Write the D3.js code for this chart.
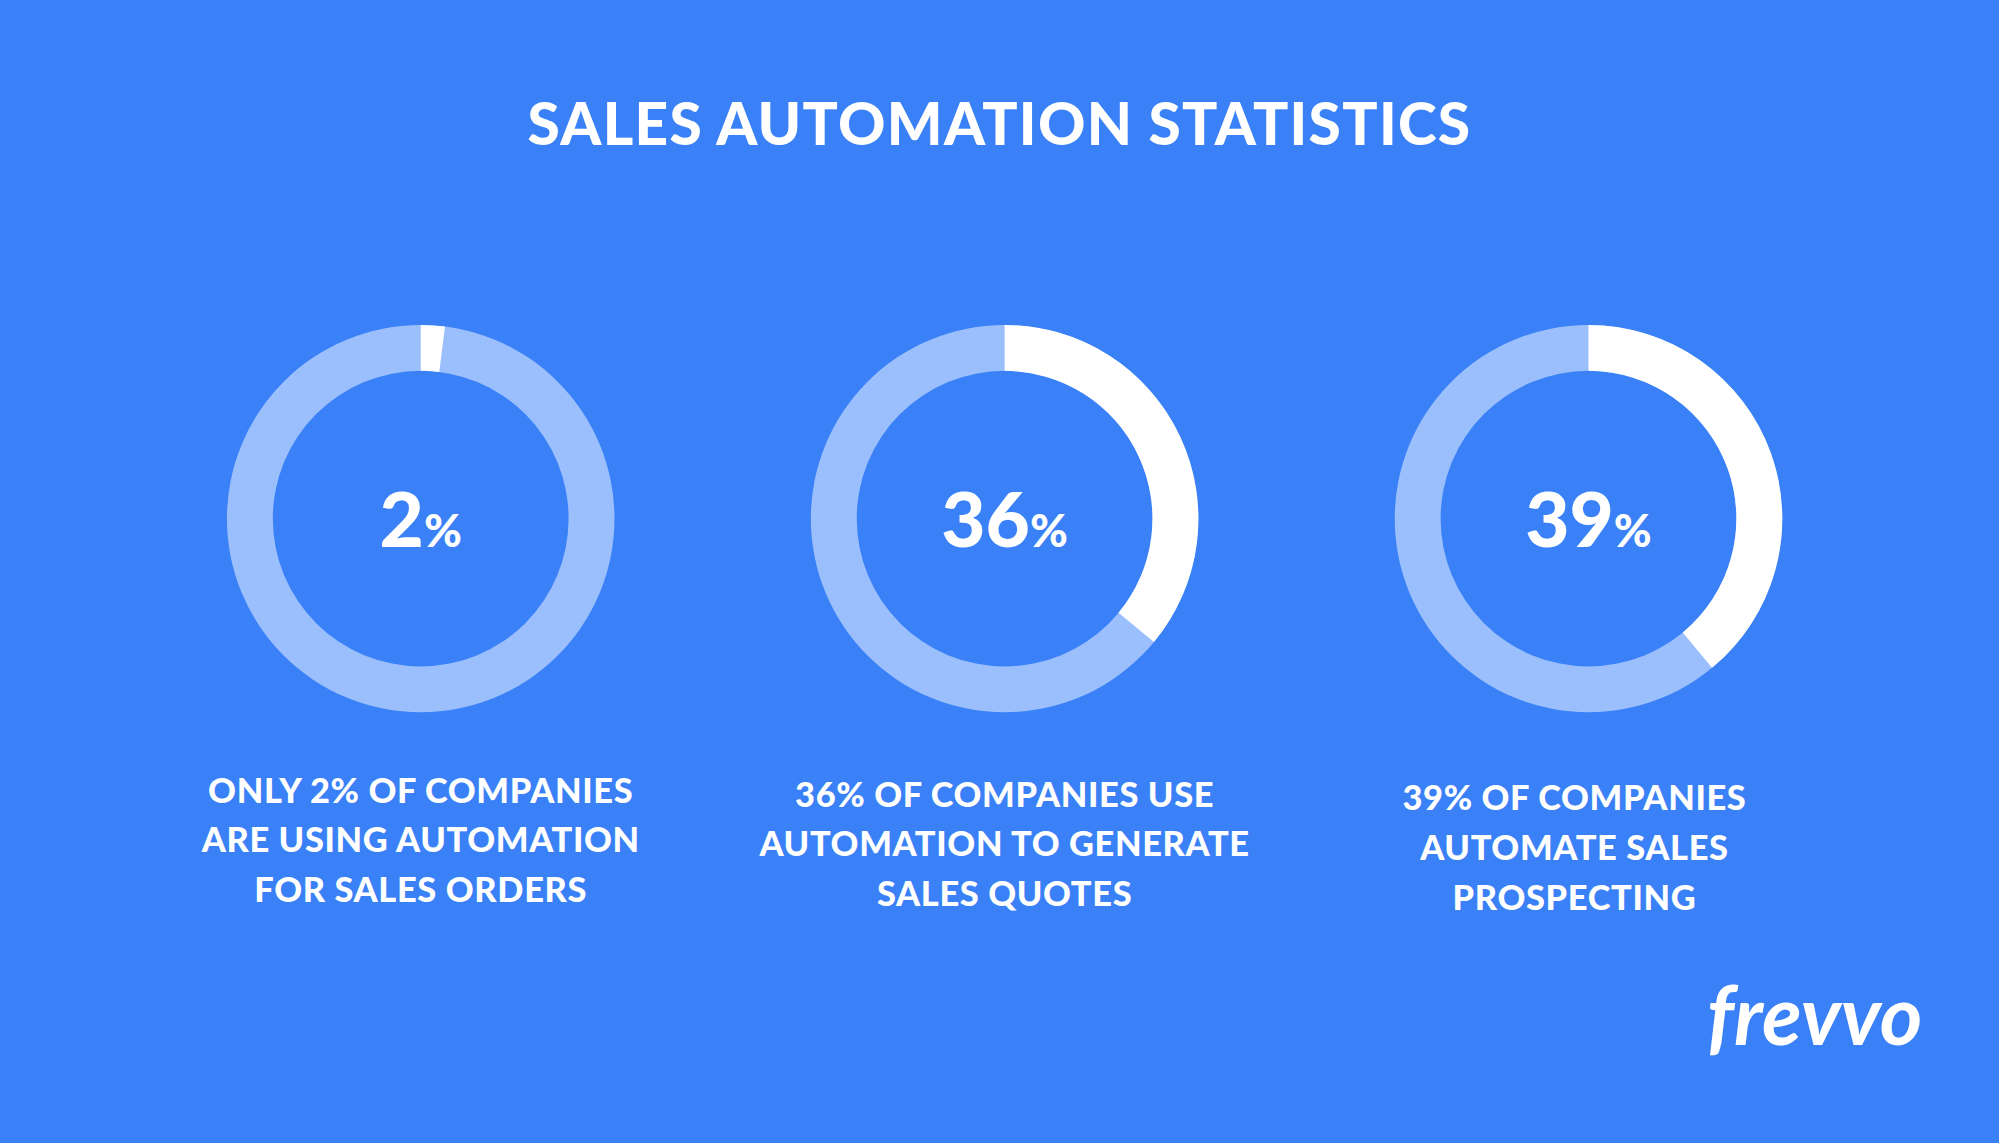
<!DOCTYPE html>
<html>
<head>
<meta charset="utf-8">
<script src="https://cdn.jsdelivr.net/npm/d3@7"></script>
<style>
  html, body { margin: 0; padding: 0; background: #3a80f7; overflow: hidden; }
</style>
</head>
<body>
<script>
const title = "SALES AUTOMATION STATISTICS"
const values = [2, 36, 39]
const captions = [
  ["ONLY 2% OF COMPANIES", "ARE USING AUTOMATION", "FOR SALES ORDERS"],
  ["36% OF COMPANIES USE", "AUTOMATION TO GENERATE", "SALES QUOTES"],
  ["39% OF COMPANIES", "AUTOMATE SALES", "PROSPECTING"]
]

const W = 1568, H = 897
const svg = d3.select("body").append("svg")
  .attr("width", 1999).attr("height", 1143)
  .attr("viewBox", `0 0 ${W} ${H}`)
  .attr("preserveAspectRatio", "none")

svg.append("rect").attr("width", W).attr("height", H).attr("fill", "#3a80f7")

const font = "Lato, 'Open Sans', sans-serif"

svg.append("text")
  .attr("x", 784).attr("y", 114)
  .attr("text-anchor", "middle")
  .attr("fill", "#fff")
  .attr("font-family", font).attr("font-weight", 900)
  .attr("font-size", 46).attr("letter-spacing", 1)
  .text(title)

const x = d3.scalePoint().domain(d3.range(values.length)).range([330, 1246])
const arc = d3.arc().innerRadius(116).outerRadius(152)
const pct = d3.scaleLinear().domain([0, 100]).range([0, 2 * Math.PI])

values.forEach((v, i) => {
  const g = svg.append("g").attr("transform", `translate(${x(i)},407)`)
  g.append("path").attr("d", arc({startAngle: 0, endAngle: 2 * Math.PI})).attr("fill", "#9abffc")
  g.append("path").attr("d", arc({startAngle: 0, endAngle: pct(v)})).attr("fill", "#fff")
  const t = g.append("text").attr("y", 22).attr("text-anchor", "middle")
    .attr("fill", "#fff").attr("font-family", font).attr("font-weight", 900)
  t.append("tspan").attr("font-size", 60).text(v)
  t.append("tspan").attr("font-size", 36).text("%")

  const lines = captions[i]
  const cx = [330, 788, 1235][i]
  const y0 = [630, 633, 636][i]
  lines.forEach((l, j) => {
    svg.append("text")
      .attr("x", cx).attr("y", y0 + j * 39)
      .attr("text-anchor", "middle")
      .attr("fill", "#fff")
      .attr("font-family", font).attr("font-weight", 900)
      .attr("font-size", 27).attr("letter-spacing", 0.5)
      .text(l)
  })
})

svg.append("text")
  .attr("x", 1508).attr("y", 820)
  .attr("text-anchor", "end")
  .attr("fill", "#fff")
  .attr("font-family", font).attr("font-weight", 700).attr("font-style", "italic")
  .attr("font-size", 64)
  .text("frevvo")
</script>
</body>
</html>
